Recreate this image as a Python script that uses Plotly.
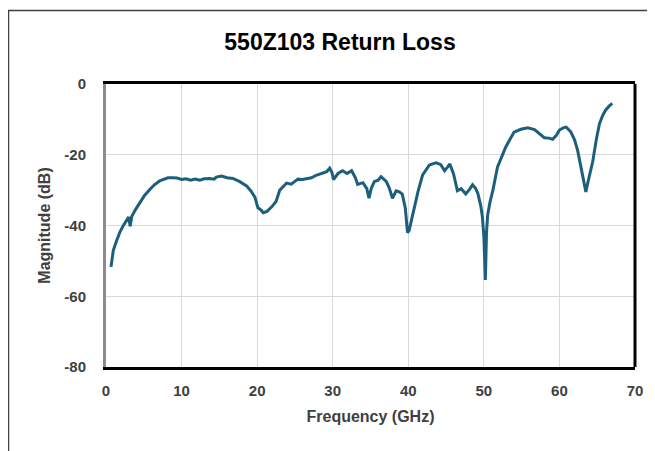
import plotly.graph_objects as go

freq_ghz = [0.66, 0.97, 1.4, 1.85, 2.3, 2.7, 3.0, 3.2, 3.4, 3.9, 4.5, 5.1, 5.8, 6.4, 7.1, 7.7, 8.2, 8.8,
            9.4, 10.0, 10.6, 11.2, 11.8, 12.4, 13.0, 13.7, 14.3, 14.6, 15.3, 16.0, 16.8, 17.7, 18.6, 19.2,
            19.7, 20.1, 20.5, 20.8, 21.3, 21.9, 22.5, 23.0, 23.5, 23.9, 24.5, 25.0, 25.4, 26.0, 26.5, 27.2,
            27.8, 28.6, 29.2, 29.6, 29.9, 30.1, 30.7, 31.3, 31.9, 32.5, 33.0, 33.3, 34.0, 34.5, 34.8, 35.1,
            35.5, 36.0, 36.4, 37.1, 37.5, 37.9, 38.4, 38.8, 39.2, 39.6, 39.9, 40.1, 40.5, 41.0, 41.3, 41.9,
            42.4, 42.8, 43.3, 43.7, 44.3, 44.8, 45.2, 45.5, 46.0, 46.5, 47.0, 47.6, 48.1, 48.5, 48.9, 49.2,
            49.6, 49.8, 50.0, 50.2, 50.35, 50.5, 50.8, 51.2, 51.8, 52.3, 52.9, 53.5, 54.0, 54.9, 55.8, 56.7,
            57.4, 58.0, 58.6, 59.1, 59.6, 60.0, 60.5, 60.9, 61.5, 62.0, 62.4, 62.9, 63.2, 63.5, 63.8, 64.4,
            64.9, 65.3, 65.7, 66.1, 66.6, 67.0]

magnitude_db = [-51.7, -47.0, -44.3, -41.8, -40.0, -38.5, -37.6, -40.2, -37.5, -35.5, -33.3, -31.5, -29.8,
                -28.5, -27.4, -26.8, -26.5, -26.5, -26.6, -27.0, -26.8, -27.2, -26.9, -27.2, -26.8, -26.7,
                -26.9, -26.3, -26.0, -26.5, -26.7, -27.6, -28.8, -30.3, -32.0, -35.0, -35.6, -36.4, -36.0,
                -34.8, -33.2, -30.0, -28.8, -28.0, -28.3, -27.6, -26.9, -27.0, -26.8, -26.5, -25.8, -25.2,
                -24.8, -23.8, -25.0, -27.0, -25.3, -24.5, -25.3, -24.5, -26.5, -28.4, -27.9, -29.5, -32.3,
                -29.5, -27.6, -27.2, -26.2, -27.6, -29.5, -32.3, -30.2, -30.5, -31.1, -35.0, -42.0, -41.5,
                -37.5, -33.0, -30.3, -25.7, -24.0, -22.9, -22.5, -22.3, -22.8, -24.5, -23.5, -22.6, -25.5,
                -30.2, -29.6, -31.1, -29.8, -28.5, -29.5, -30.9, -34.5, -37.5, -43.0, -55.4, -42.0, -37.1,
                -33.5, -30.0, -23.5, -20.8, -17.8, -15.5, -13.6, -12.8, -12.4, -12.9, -14.0, -15.2, -15.3,
                -15.6, -14.5, -13.0, -12.4, -12.2, -13.5, -15.8, -18.7, -24.0, -28.0, -30.5, -27.5, -22.0,
                -15.5, -11.2, -9.0, -7.4, -6.2, -5.5]

x_ticks = [0, 10, 20, 30, 40, 50, 60, 70]
y_ticks = [0, -20, -40, -60, -80]
y_tick_labels = ["0", "-20", "-40", "-60", "-80"]

# page body has an 8px margin, so the figure is offset by 8px in the window
OFF = 8
W, H = 655 - OFF, 451 - OFF
L, R, T, B = 106 - OFF, 635 - OFF, 84 - OFF, 367 - OFF

font_family = "Liberation Sans, Arial, sans-serif"

fig = go.Figure()
fig.add_trace(go.Scatter(
    x=freq_ghz, y=magnitude_db, mode="lines",
    line=dict(color="#1b5f7c", width=3), hoverinfo="x+y", showlegend=False,
))

def px_to_paper_x(px):
    return (px - OFF - L) / (R - L)

def px_to_paper_y(py):
    return (B - (py - OFF)) / (B - T)

fig.update_layout(
    width=W, height=H,
    margin=dict(l=L, r=W - R, t=T, b=H - B, pad=0),
    paper_bgcolor="white", plot_bgcolor="white",
    title=dict(text="<b>550Z103 Return Loss</b>", x=px_to_paper_x(340), xref="paper", xanchor="center",
               y=1 - (42 - OFF) / H, yanchor="middle",
               font=dict(family=font_family, size=23, color="black")),
    xaxis=dict(range=[0, 70], tickvals=x_ticks, showgrid=True, gridcolor="#d9d9d9", gridwidth=1,
               zeroline=False, showline=True, linecolor="black", linewidth=3, mirror=True,
               ticks="", ticklabelstandoff=8,
               tickfont=dict(family=font_family, size=15, color="#404040", weight="bold"),
               title=dict(text="<b>Frequency (GHz)</b>", standoff=13,
                          font=dict(family=font_family, size=16, color="#404040"))),
    yaxis=dict(range=[-80, 0], tickvals=y_ticks, ticktext=y_tick_labels, showgrid=True,
               gridcolor="#d9d9d9", gridwidth=1,
               zeroline=False, showline=True, linecolor="#8c8c8c", linewidth=3, mirror=False,
               ticks="", ticklabelstandoff=14,
               tickfont=dict(family=font_family, size=15, color="#404040", weight="bold"),
               title=dict(text="<b>Magnitude (dB)</b>", standoff=10,
                          font=dict(family=font_family, size=16, color="#404040"))),
    shapes=[
        dict(type="line", xref="paper", yref="paper", x0=1, x1=1, y0=0, y1=1,
             line=dict(color="black", width=3), layer="above"),
        dict(type="line", xref="paper", yref="paper",
             x0=px_to_paper_x(8.5), x1=px_to_paper_x(8.5), y0=px_to_paper_y(10), y1=px_to_paper_y(470),
             line=dict(color="#404040", width=1.5)),
        dict(type="line", xref="paper", yref="paper",
             x0=px_to_paper_x(8), x1=px_to_paper_x(680), y0=px_to_paper_y(10.5), y1=px_to_paper_y(10.5),
             line=dict(color="#404040", width=1.5)),
    ],
)

fig.write_html("out.html")
